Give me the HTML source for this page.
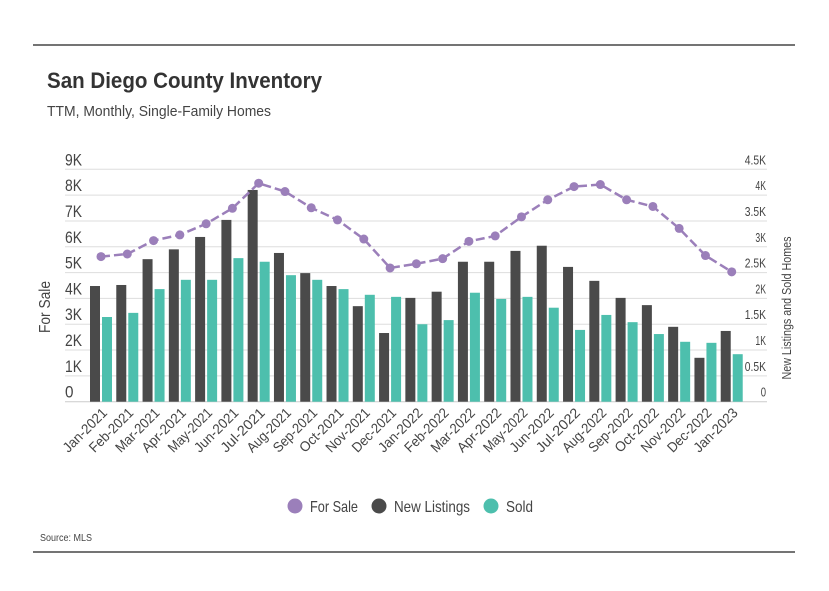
<!DOCTYPE html>
<html><head><meta charset="utf-8">
<style>
body{margin:0;background:#fff;width:829px;height:586px;overflow:hidden;font-family:"Liberation Sans",sans-serif;}
svg text{font-family:"Liberation Sans",sans-serif;}
</style></head>
<body>
<svg id="chart" width="829" height="586" viewBox="0 0 829 586" xmlns="http://www.w3.org/2000/svg">
<line x1="33" y1="45" x2="795" y2="45" stroke="#222" stroke-width="1.2"/>
<line x1="33" y1="552" x2="795" y2="552" stroke="#222" stroke-width="1.2"/>
<text x="47" y="88" font-size="22" font-weight="bold" fill="#333" textLength="275" lengthAdjust="spacingAndGlyphs">San Diego County Inventory</text>
<text x="47" y="116" font-size="15" fill="#444" textLength="224" lengthAdjust="spacingAndGlyphs">TTM, Monthly, Single-Family Homes</text>
<text x="40" y="541" font-size="10" fill="#444" textLength="52" lengthAdjust="spacingAndGlyphs">Source: MLS</text>
<text transform="translate(50,307) rotate(-90)" text-anchor="middle" font-size="16" fill="#444" textLength="52" lengthAdjust="spacingAndGlyphs">For Sale</text>
<text transform="translate(791,308) rotate(-90)" text-anchor="middle" font-size="13" fill="#444" textLength="143" lengthAdjust="spacingAndGlyphs">New Listings and Sold Homes</text>
<g id="grid"></g><g id="bars"></g><g id="line"></g><g id="xlabels"></g>
<g>
<circle cx="295" cy="506" r="7.5" fill="#9b7fba"/>
<text x="310" y="512" font-size="16" fill="#444" textLength="48" lengthAdjust="spacingAndGlyphs">For Sale</text>
<circle cx="379" cy="506" r="7.5" fill="#4a4a4a"/>
<text x="394" y="512" font-size="16" fill="#444" textLength="76" lengthAdjust="spacingAndGlyphs">New Listings</text>
<circle cx="491" cy="506" r="7.5" fill="#4dbfad"/>
<text x="506" y="512" font-size="16" fill="#444" textLength="27" lengthAdjust="spacingAndGlyphs">Sold</text>
</g>
</svg>
<script>
const categories=["Jan-2021","Feb-2021","Mar-2021","Apr-2021","May-2021","Jun-2021","Jul-2021","Aug-2021","Sep-2021","Oct-2021","Nov-2021","Dec-2021","Jan-2022","Feb-2022","Mar-2022","Apr-2022","May-2022","Jun-2022","Jul-2022","Aug-2022","Sep-2022","Oct-2022","Nov-2022","Dec-2022","Jan-2023"];
const forSale=[5620,5720,6240,6460,6890,7490,8460,8140,7510,7040,6300,5180,5340,5540,6210,6420,7160,7820,8330,8410,7820,7560,6710,5660,5030];
const newListings=[2240,2260,2760,2950,3190,3520,4100,2880,2490,2240,1850,1330,2010,2130,2710,2710,2920,3020,2610,2340,2010,1870,1450,850,1370];
const sold=[1640,1720,2180,2360,2360,2780,2710,2450,2360,2180,2070,2030,1500,1580,2110,1990,2030,1820,1390,1680,1540,1310,1160,1140,920];
const leftTicks=["0","1K","2K","3K","4K","5K","6K","7K","8K","9K"];
const rightTicks=["0","0.5K","1K","1.5K","2K","2.5K","3K","3.5K","4K","4.5K"];
const NS="http://www.w3.org/2000/svg";
const y0=401.7,yTop=169.3,x0=101,dx=26.28;
const yL=v=>y0-(v/9000)*(y0-yTop);
const yR=v=>y0-(v/4500)*(y0-yTop);
const xC=i=>x0+i*dx;
function mk(tag,attrs,parent){const e=document.createElementNS(NS,tag);for(const k in attrs)e.setAttribute(k,attrs[k]);document.getElementById(parent).appendChild(e);return e;}
leftTicks.forEach((t,i)=>{
 const y=yL(i*1000);
 const g=mk('line',{x1:65,x2:767,y1:y,y2:y,stroke:i===0?'#ccc':'#ddd','stroke-width':1},'grid');
 
 
 const l=mk('text',{x:65,y:y-4,'font-size':17,fill:'#444',textLength:t.length*8.5,lengthAdjust:'spacingAndGlyphs'},'grid');l.textContent=t;
 
 
 const rt=rightTicks[i];
 const r=mk('text',{x:766,y:y-5,'font-size':12.5,fill:'#444','text-anchor':'end',textLength:rt.length*5.3,lengthAdjust:'spacingAndGlyphs'},'grid');r.textContent=rt;
 
 
});
categories.forEach((c,i)=>{
 const cx=xC(i);
 const b1=mk('rect',{x:cx-11,y:yR(newListings[i]),width:10,height:y0-yR(newListings[i]),fill:'#4a4a4a'},'bars');
 
 
 const b2=mk('rect',{x:cx+1,y:yR(sold[i]),width:10,height:y0-yR(sold[i]),fill:'#4dbfad'},'bars');
 
 
 const t=mk('text',{transform:`translate(${cx+7},${y0+12}) rotate(-45)`,'text-anchor':'end','font-size':14,fill:'#444',textLength:c.length*7,lengthAdjust:'spacingAndGlyphs'},'xlabels');t.textContent=c;
 
 
});
const pts=forSale.map((v,i)=>xC(i)+','+yL(v)).join(' ');
const pl=mk('polyline',{points:pts,fill:'none',stroke:'#9b7fba','stroke-width':2.5,'stroke-dasharray':'9,4'},'line');


forSale.forEach((v,i)=>{
 const c=mk('circle',{cx:xC(i),cy:yL(v),r:4.5,fill:'#9b7fba'},'line');
 
 
});
</script>
</body></html>
